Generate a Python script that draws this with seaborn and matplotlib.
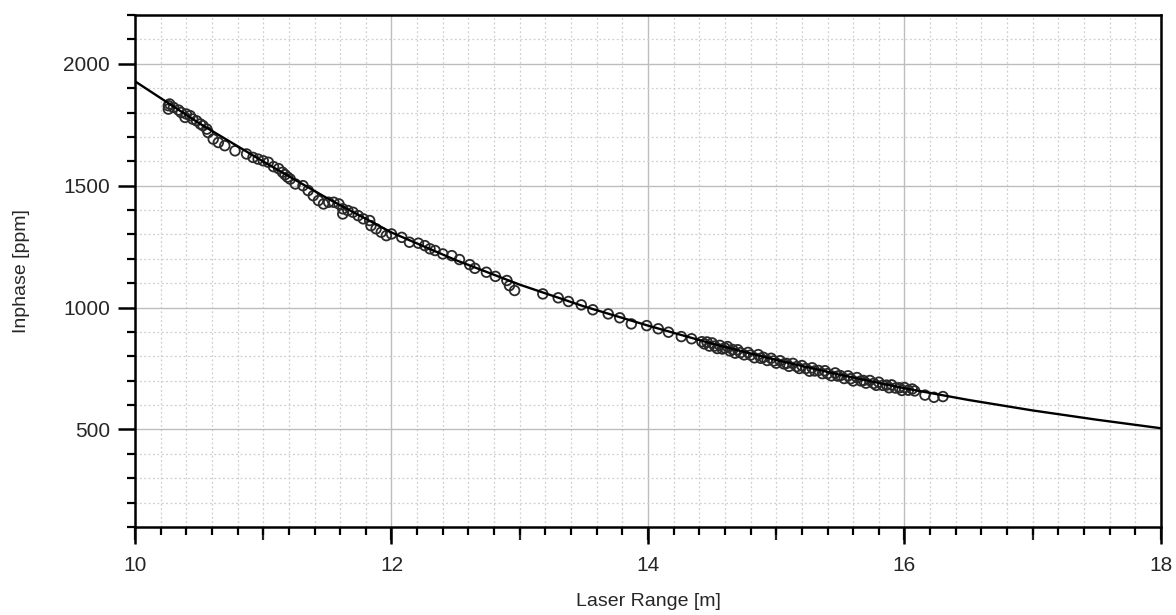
import numpy as np
import pandas as pd
import seaborn as sns
import matplotlib.pyplot as plt
from matplotlib.ticker import MultipleLocator, FixedLocator

# measured points (laser range [m], inphase [ppm])
range_m = [10.26, 10.27, 10.26, 10.30, 10.34, 10.36, 10.40, 10.39, 10.43, 10.45,
           10.48, 10.51, 10.53, 10.56, 10.57, 10.61, 10.65, 10.70, 10.78, 10.87,
           10.92, 10.96, 11.00, 11.04, 11.08, 11.12, 11.15, 11.17, 11.19, 11.21,
           11.25, 11.31, 11.35, 11.39, 11.43, 11.47, 11.51, 11.55, 11.59, 11.62,
           11.62, 11.66, 11.70, 11.74, 11.78, 11.83, 11.84, 11.88, 11.92, 11.96,
           12.00, 12.08, 12.14, 12.21, 12.26, 12.30, 12.34, 12.40, 12.47, 12.53,
           12.61, 12.65, 12.74, 12.81, 12.90, 12.92, 12.96, 13.18, 13.30, 13.38,
           13.48, 13.57, 13.69, 13.78, 13.87, 13.99, 14.08, 14.16, 14.26, 14.34,
           14.42, 14.44, 14.46, 14.48, 14.50, 14.52, 14.54, 14.56, 14.58, 14.60,
           14.62, 14.64, 14.66, 14.68, 14.70, 14.72, 14.75, 14.78, 14.80, 14.83,
           14.86, 14.88, 14.90, 14.93, 14.96, 14.98, 15.00, 15.03, 15.06, 15.08,
           15.10, 15.13, 15.16, 15.18, 15.20, 15.23, 15.26, 15.28, 15.30, 15.33,
           15.36, 15.38, 15.40, 15.43, 15.46, 15.48, 15.50, 15.53, 15.56, 15.58,
           15.60, 15.63, 15.66, 15.68, 15.70, 15.73, 15.76, 15.78, 15.80, 15.83,
           15.86, 15.88, 15.90, 15.93, 15.96, 15.98, 16.00, 16.03, 16.06, 16.08,
           16.16, 16.23, 16.30]
inphase = [1828, 1835, 1814, 1821, 1810, 1800, 1794, 1780, 1787, 1773,
           1766, 1753, 1746, 1732, 1718, 1691, 1677, 1664, 1643, 1630,
           1616, 1609, 1602, 1596, 1578, 1570, 1555, 1545, 1535, 1527,
           1507, 1500, 1480, 1459, 1439, 1425, 1432, 1432, 1425, 1405,
           1384, 1398, 1391, 1377, 1364, 1357, 1336, 1323, 1309, 1295,
           1302, 1288, 1268, 1264, 1254, 1241, 1234, 1220, 1213, 1197,
           1176, 1161, 1145, 1128, 1111, 1090, 1070, 1056, 1040, 1025,
           1011, 991, 974, 958, 933, 926, 913, 899, 881, 872,
           860, 851, 859, 842, 855, 842, 832, 845, 830, 834,
           840, 822, 828, 813, 827, 815, 806, 816, 805, 794,
           807, 792, 796, 783, 792, 781, 772, 782, 769, 771,
           759, 771, 758, 750, 762, 750, 739, 753, 740, 742,
           729, 741, 729, 720, 732, 719, 721, 709, 720, 708,
           699, 713, 699, 701, 690, 701, 689, 681, 694, 681,
           682, 671, 683, 670, 671, 660, 672, 661, 666, 658,
           641, 632, 635]

# fitted curve
fit_range = [10.0, 10.5, 11.0, 11.5, 12.0, 12.5, 13.0, 13.5, 14.0,
             14.5, 15.0, 15.5, 16.0, 16.5, 17.0, 17.5, 18.0]
fit_inphase = [1928, 1756, 1599, 1448, 1308, 1195, 1094, 1005, 926,
               852, 785, 724, 669, 621, 578, 540, 505]

pts = pd.DataFrame({'range': range_m, 'inphase': inphase})
fit = pd.DataFrame({'range': fit_range, 'inphase': fit_inphase})

sns.set_style('white')
plt.rcParams['font.family'] = ['Liberation Sans', 'DejaVu Sans']

fig = plt.figure(figsize=(11.76, 6.15), dpi=100)
ax = fig.add_axes([0.1148, 0.1431, 0.8724, 0.8325])

sns.scatterplot(data=pts, x='range', y='inphase', ax=ax, marker='o', s=48,
                facecolor='none', edgecolor='#2a2a2a', linewidth=1.3, zorder=3)
sns.lineplot(data=fit, x='range', y='inphase', ax=ax, color='black',
             linewidth=1.7, sort=False, zorder=4)

ax.set_xlim(10, 18)
ax.set_ylim(100, 2200)
ax.xaxis.set_major_locator(MultipleLocator(2))
ax.xaxis.set_minor_locator(MultipleLocator(0.2))
ax.yaxis.set_major_locator(FixedLocator([500, 1000, 1500, 2000]))
ax.yaxis.set_minor_locator(MultipleLocator(100))

ax.grid(which='major', color='#bdbdbd', linewidth=1.0, linestyle='-')
ax.grid(which='minor', color='#cfcfcf', linewidth=0.9, linestyle=(0, (1.5, 2)))
ax.set_axisbelow(True)

for side in ['left', 'bottom', 'right', 'top']:
    ax.spines[side].set_visible(True)
    ax.spines[side].set_color('black')
    ax.spines[side].set_linewidth(1.8)

ax.tick_params(which='major', direction='out', length=12, width=1.8,
               labelsize=15, color='black', left=True, bottom=True)
ax.tick_params(axis='x', which='major', pad=9)
ax.tick_params(axis='y', which='major', pad=6)
ax.tick_params(which='minor', direction='out', length=6, width=1.6,
               color='black', left=True, bottom=True)

# medium ticks at odd metres
sec = ax.secondary_xaxis('bottom')
sec.xaxis.set_major_locator(MultipleLocator(1))
sec.tick_params(direction='out', length=9, width=1.6, labelbottom=False)
sec.spines['bottom'].set_visible(False)

ax.set_xlabel('Laser Range [m]', fontsize=14, labelpad=13)
ax.set_ylabel('Inphase [ppm]', fontsize=14, labelpad=24)

fig.savefig('out.png', dpi=100)
